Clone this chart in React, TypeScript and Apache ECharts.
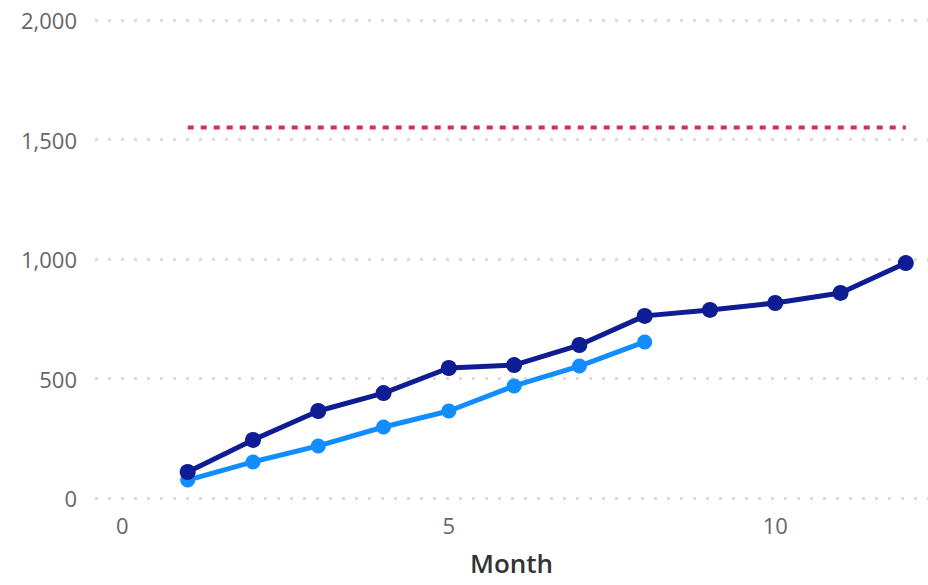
import React, { useEffect, useRef } from "react";
import * as echarts from "echarts";

const months = [1, 2, 3, 4, 5, 6, 7, 8, 9, 10, 11, 12];
const seriesDark = [109, 243, 364, 439, 544, 556, 640, 762, 787, 816, 858, 983];
const seriesLight = [75, 151, 218, 297, 364, 469, 552, 653];
const targetValue = 1550;
const xTickLabels = [0, 5, 10];
const yTicks = [0, 500, 1000, 1500, 2000];

export default function App() {
  const ref = useRef<HTMLDivElement>(null);
  useEffect(() => {
    if (!ref.current) return;
    const chart = echarts.init(ref.current, undefined, { renderer: "svg" });
    const font = "'Open Sans', 'Noto Sans', sans-serif";
    chart.setOption({
      animation: false,
      backgroundColor: "#ffffff",
      grid: { left: 95, right: 0, top: 20, bottom: 87, containLabel: false },
      xAxis: {
        type: "value",
        min: -0.42,
        max: 12.34,
        name: "Month",
        nameLocation: "middle",
        nameGap: 52,
        nameTextStyle: { fontFamily: font, fontSize: 26, fontWeight: 600, color: "#333333" },
        axisLine: { show: false },
        axisTick: { show: false },
        splitLine: { show: false },
        axisLabel: {
          customValues: xTickLabels,
          fontFamily: font,
          fontSize: 22,
          color: "#666666",
          margin: 16,
        },
      },
      yAxis: {
        type: "value",
        min: yTicks[0],
        max: yTicks[yTicks.length - 1],
        interval: 500,
        axisLine: { show: false },
        axisTick: { show: false },
        axisLabel: {
          fontFamily: font,
          fontSize: 22,
          color: "#666666",
          margin: 18,
          formatter: (v: number) => v.toLocaleString("en-US"),
        },
        splitLine: {
          show: true,
          lineStyle: { color: "#dcdcdc", width: 3, type: [3, 10] },
        },
      },
      series: [
        {
          type: "line",
          data: [
            [months[0], targetValue],
            [months[months.length - 1], targetValue],
          ],
          symbol: "none",
          lineStyle: { color: "#d4304f", width: 4, type: [6, 7] },
          z: 1,
        },
        {
          type: "line",
          data: seriesLight.map((v, i) => [months[i], v]),
          symbol: "circle",
          symbolSize: 15,
          itemStyle: { color: "#118DFF" },
          lineStyle: { color: "#118DFF", width: 5 },
          z: 2,
        },
        {
          type: "line",
          data: seriesDark.map((v, i) => [months[i], v]),
          symbol: "circle",
          symbolSize: 16,
          itemStyle: { color: "#0f1d94" },
          lineStyle: { color: "#0f1d94", width: 5 },
          z: 3,
        },
      ],
    });
    return () => chart.dispose();
  }, []);
  return <div ref={ref} style={{ width: 928, height: 585, position: "absolute", left: 0, top: 0 }} />;
}
